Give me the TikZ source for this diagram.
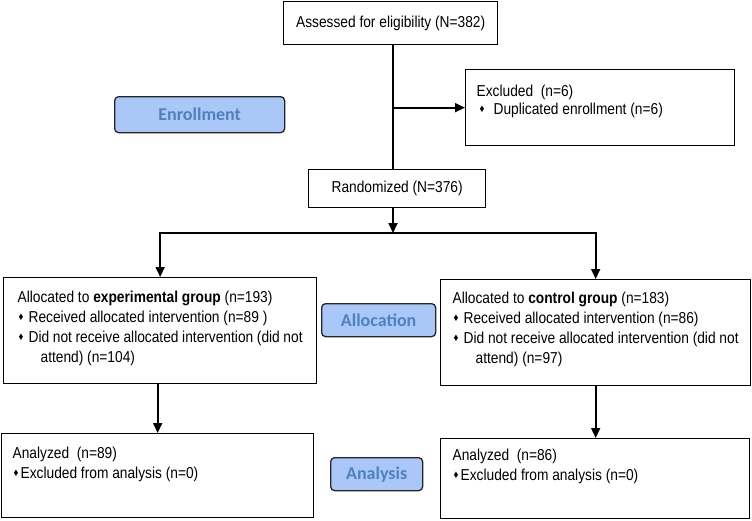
\documentclass[tikz,border=0pt]{standalone}
\usepackage{fontspec}
\setmainfont[FakeStretch=0.87]{Liberation Sans}
\newfontfamily\stagefont{Carlito}
\usepackage{graphicx}
\usetikzlibrary{arrows.meta, positioning}
\definecolor{StageFill}{HTML}{A9C7F7}
\definecolor{StageText}{HTML}{4F81BD}
\newcommand{\boxfont}{\fontsize{15.8pt}{20pt}\selectfont}
\newcommand{\dbul}[1]{\makebox[#1][l]{\hspace*{1pt}\raisebox{0.25ex}{\scalebox{0.7}{♦}}}}
\newcommand{\boxtext}[3]{\parbox[c][#2][t]{#1}{\raggedright\strut#3}}

\begin{document}
\begin{tikzpicture}[
    x=1pt, y=-1pt,
    box/.style={draw=black, line width=1.3pt, anchor=north west, inner xsep=12pt, inner ysep=11pt, font=\boxfont},
    cbox/.style={draw=black, line width=1.3pt, anchor=north west, inner sep=0pt, font=\boxfont},
    stage/.style={draw=black!85, line width=1.3pt, rounded corners=4pt, fill=StageFill, text=StageText, anchor=north west, inner sep=0pt, font=\stagefont\bfseries\fontsize{18pt}{20pt}\selectfont},
    arr/.style={-{Triangle[length=10pt, width=9pt]}, line width=1.7pt}
]
\useasboundingbox (0,0) rectangle (752,520);

% enrollment
\node[cbox, minimum width=214pt, minimum height=43pt] (assess) at (283,1) {Assessed for eligibility (N=382)};
\node[box, inner xsep=11pt, inner ysep=14pt] (excl) at (465,69) {\fontsize{15.8pt}{18pt}\selectfont\boxtext{247pt}{48pt}{Excluded\ \ (n=6)\\\hspace*{2pt}\dbul{15pt}Duplicated enrollment (n=6)}};
\node[stage, minimum width=170pt, minimum height=36pt] (enroll) at (114,96) {Enrollment};
\node[cbox, minimum width=177pt, minimum height=38pt] (rand) at (308,169) {Randomized (N=376)};

% allocation
\node[box, inner xsep=14pt] (allocE) at (3,277) {\boxtext{285pt}{84pt}{Allocated to \textbf{experimental group} (n=193)\\\dbul{11pt}Received allocated intervention (n=89 )\\\dbul{11pt}Did not receive allocated intervention (did not\\\hspace*{23pt}attend) (n=104)}};
\node[box, inner ysep=10pt] (allocC) at (440,279) {\boxtext{286pt}{86pt}{Allocated to \textbf{control group} (n=183)\\\dbul{11pt}Received allocated intervention (n=86)\\\dbul{11pt}Did not receive allocated intervention (did not\\\hspace*{23pt}attend) (n=97)}};
\node[stage, minimum width=114pt, minimum height=33pt] (alloc) at (321,303) {Allocation};

% analysis
\node[box, inner xsep=11pt] (anaE) at (1,433) {\boxtext{290pt}{62pt}{Analyzed\ \ (n=89)\\\dbul{8pt}Excluded from analysis (n=0)}};
\node[box, inner ysep=8pt] (anaC) at (440,438) {\boxtext{285pt}{64pt}{Analyzed\ \ (n=86)\\\dbul{8pt}Excluded from analysis (n=0)}};
\node[stage, minimum width=92pt, minimum height=33pt] (ana) at (330,457) {Analysis};

% connectors
\coordinate (split) at (393,233);
\draw[line width=1.7pt] (assess.south -| split) -- (rand.north -| split);
\draw[arr] (split |- excl.west) -- (excl.west);
\draw[arr] (rand.south -| split) -- (split);
\draw[arr] (split) -| (allocE.north);
\draw[arr] (split) -| (allocC.north);
\draw[arr] (allocE.south -| anaE.north) -- (anaE.north);
\draw[arr] (allocC.south) -- (anaC.north -| allocC.south);
\end{tikzpicture}
\end{document}
